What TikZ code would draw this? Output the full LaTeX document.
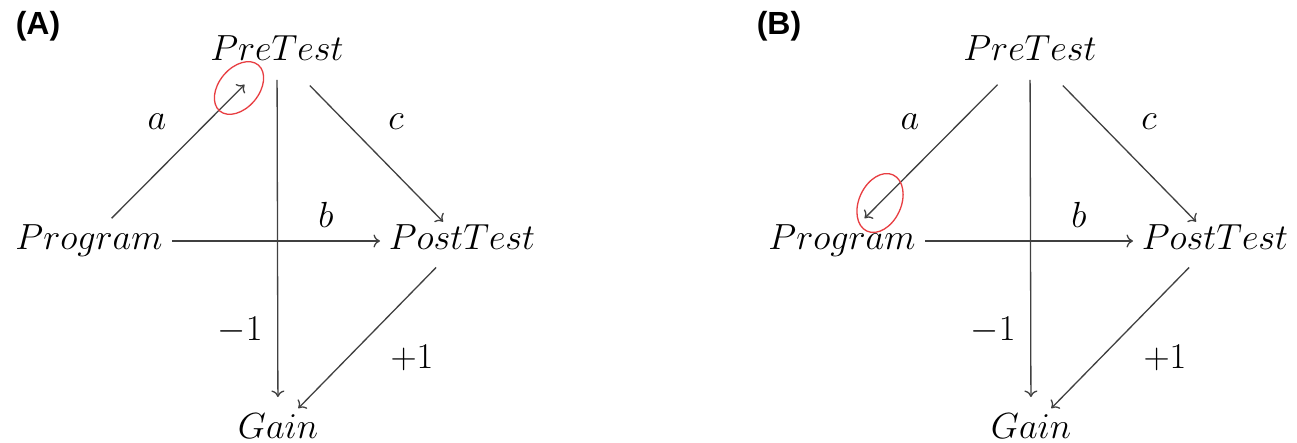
\documentclass[tikz,border=0pt]{standalone}
\usepackage{graphicx}
\usepackage{fontspec}
\newfontfamily\panelfont{Liberation Sans}
\usetikzlibrary{arrows.meta}
\definecolor{markred}{RGB}{232,62,66}
\newcommand{\varmath}[1]{\scalebox{1.46}{\fontsize{24.88}{30}\selectfont$#1$}}
\begin{document}
\begin{tikzpicture}[x=1pt,y=-1pt,
  var/.style={inner sep=0pt, text height=25pt, text depth=7pt},
  lab/.style={inner sep=0pt},
  conn/.style={draw=black!75, line width=1.3pt, -{To[length=6.5pt,width=13pt]}},
  panel/.style={inner sep=0pt, font=\panelfont\bfseries\fontsize{32}{36}\selectfont},
  redmark/.style={draw=markred, line width=1.3pt}
]
\useasboundingbox[fill=white] (0,0) rectangle (1297,443);
% ---------- Panel A ----------
\node[panel] (pA) at (38,26) {(A)};
\node[var] (preA)  at (277,52)  {\varmath{PreTest}};
\node[var] (progA) at (89,241)  {\varmath{Program}};
\node[var] (postA) at (462,241) {\varmath{PostTest}};
\node[var] (gainA) at (278,429) {\varmath{Gain}};
\draw[conn, shorten <=32pt, shorten >=46pt] (progA.center) -- (preA.center);
\draw[conn, shorten <=47pt, shorten >=27pt] (preA.center) -- (postA.center);
\draw[conn, shorten <=83pt, shorten >=82pt] (progA.center) -- (postA.center);
\draw[conn, shorten <=28pt, shorten >=32pt] (preA.center) -- (gainA.center);
\draw[conn, shorten <=37pt, shorten >=29pt] (postA.center) -- (gainA.center);
\node[lab] (laA) at (157,122) {\varmath{a}};
\node[lab] (lcA) at (396,122) {\varmath{c}};
\node[lab] (lbA) at (326,215) {\varmath{b}};
\node[lab] (lmA) at (240,330) {\varmath{-1}};
\node[lab] (lpA) at (412,358) {\varmath{+1}};
\draw[redmark, rotate around={-40:(239,88)}] (239,88) ellipse (20 and 30);
% ---------- Panel B ----------
\node[panel] (pB) at (779,26) {(B)};
\node[var] (preB)  at (1030,52)  {\varmath{PreTest}};
\node[var] (progB) at (842,241)  {\varmath{Program}};
\node[var] (postB) at (1215,241) {\varmath{PostTest}};
\node[var] (gainB) at (1031,429) {\varmath{Gain}};
\draw[conn, shorten <=46pt, shorten >=32pt] (preB.center) -- (progB.center);
\draw[conn, shorten <=47pt, shorten >=27pt] (preB.center) -- (postB.center);
\draw[conn, shorten <=83pt, shorten >=82pt] (progB.center) -- (postB.center);
\draw[conn, shorten <=28pt, shorten >=32pt] (preB.center) -- (gainB.center);
\draw[conn, shorten <=37pt, shorten >=29pt] (postB.center) -- (gainB.center);
\node[lab] (laB) at (910,122) {\varmath{a}};
\node[lab] (lcB) at (1149,122) {\varmath{c}};
\node[lab] (lbB) at (1079,215) {\varmath{b}};
\node[lab] (lmB) at (993,330) {\varmath{-1}};
\node[lab] (lpB) at (1165,358) {\varmath{+1}};
\draw[redmark, rotate around={-25:(880,203)}] (880,203) ellipse (21 and 31);
\end{tikzpicture}
\end{document}
